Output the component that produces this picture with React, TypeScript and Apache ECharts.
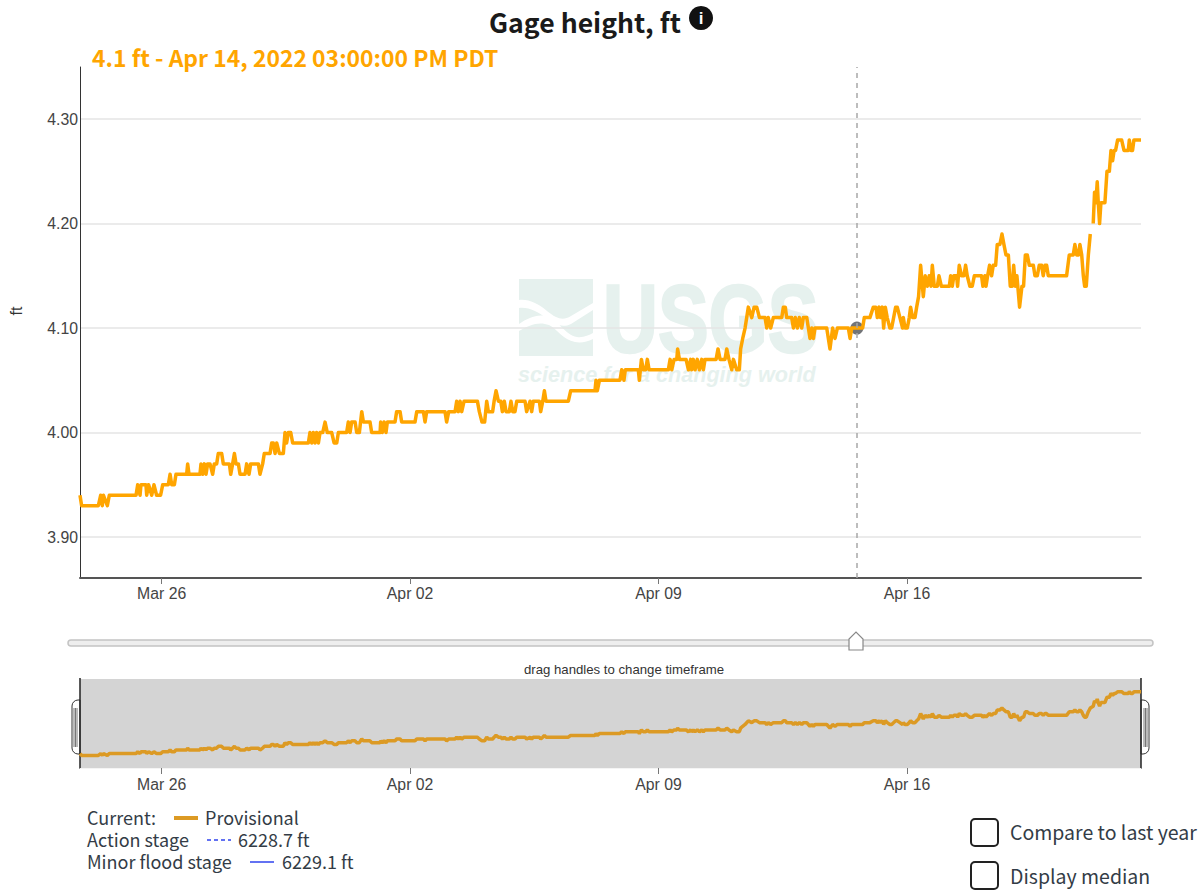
import React, { useEffect, useRef } from "react";
import * as echarts from "echarts";

const PAGE_WIDTH = 1203;
const PAGE_HEIGHT = 890;

const chartTitle = "Gage height, ft";
const hoverLabel = "4.1 ft - Apr 14, 2022 03:00:00 PM PDT";
const yAxisName = "ft";
const overviewCaption = "drag handles to change timeframe";
const yTicks = [3.9, 4.0, 4.1, 4.2, 4.3];
const xTickDates = ["2022-03-26", "2022-04-02", "2022-04-09", "2022-04-16"];
const xTickLabels = ["Mar 26", "Apr 02", "Apr 09", "Apr 16"];
const hoverHours = 525.3;
const hoverValue = 4.1;
const actionStage = "6228.7 ft";
const minorFloodStage = "6229.1 ft";

// [hours since the left edge of the axis, gage height in ft]
const readingsMarch: number[][] = [
  [0, 3.94], [1.1, 3.93], [12.4, 3.93], [14, 3.94], [15.1, 3.93], [15.8, 3.94], [18.5, 3.93], [19.8, 3.94],
  [37.9, 3.94], [39, 3.95], [40.6, 3.94], [41.2, 3.95], [44.6, 3.95], [45.1, 3.94], [46.4, 3.95], [48.5, 3.94],
  [50, 3.95], [51.8, 3.94], [54.5, 3.94], [55.9, 3.95], [59.7, 3.95], [60.9, 3.96], [62, 3.95], [63.8, 3.95],
  [64.9, 3.96], [72.1, 3.96], [72.8, 3.97], [73.7, 3.96], [81.1, 3.96], [81.8, 3.97], [82.9, 3.96], [84.1, 3.97],
  [85.2, 3.96], [86.3, 3.97], [87.9, 3.97], [89.7, 3.96], [90.8, 3.97], [92.4, 3.97], [93.5, 3.98], [95.8, 3.98],
  [96.9, 3.97], [101, 3.97], [101.9, 3.96], [103.2, 3.97], [104.4, 3.98], [105.5, 3.97], [107.1, 3.97], [108.2, 3.96],
  [111.6, 3.96], [112.7, 3.97], [114.3, 3.96], [115.4, 3.97], [120.6, 3.97], [121.7, 3.96], [123.5, 3.97], [124.6, 3.98],
  [128.5, 3.98], [129.6, 3.99], [130.7, 3.99], [131.9, 3.98], [133, 3.99], [134.8, 3.98], [137.5, 3.98], [138.6, 4.0],
  [139.7, 3.99], [140.9, 4.0], [142.5, 4.0], [143.8, 3.99], [154.4, 3.99], [155.5, 4.0], [156.7, 3.99], [157.8, 4.0],
  [158.9, 3.99], [160, 4.0], [161.2, 3.99], [162.3, 4.0], [164.1, 4.0], [165.7, 4.01], [167.2, 4.0], [170.2, 4.0],
  [171.8, 3.99], [173.6, 3.99], [174.7, 4.0], [180.3, 4.0], [181.4, 4.01], [182.6, 4.0], [183.7, 4.01], [186, 4.01],
  [187.1, 4.0], [188.9, 4.0], [190.5, 4.02], [191.6, 4.01], [196.1, 4.01], [197.2, 4.0], [202.9, 4.0], [203.3, 4.01],
  [204.4, 4.0], [205.6, 4.01], [206.9, 4.0], [207.8, 4.01], [213, 4.01], [214.1, 4.02], [216.4, 4.02], [217.5, 4.01],
];
const readingsEarlyApril: number[][] = [
  [226.5, 4.01], [227.7, 4.02], [232.2, 4.02], [233.3, 4.01], [234.4, 4.02], [246.8, 4.02], [247.9, 4.01], [249.3, 4.02],
  [253.6, 4.02], [254.7, 4.03], [255.8, 4.02], [257, 4.03], [258.1, 4.02], [259.7, 4.03], [268.7, 4.03], [270, 4.02],
  [271.8, 4.01], [273.6, 4.01], [275, 4.03], [276.1, 4.02], [279, 4.02], [280, 4.03], [281.3, 4.04], [282.9, 4.03],
  [284.5, 4.03], [285.6, 4.02], [286.9, 4.03], [288.1, 4.02], [290.3, 4.02], [291.4, 4.03], [292.6, 4.02], [294.1, 4.02],
  [295.3, 4.03], [300.9, 4.03], [302, 4.02], [304.3, 4.03], [305.4, 4.02], [306.5, 4.03], [310.6, 4.03], [311.5, 4.02],
  [312.9, 4.03], [314, 4.04], [315.1, 4.03], [330.2, 4.03], [331.8, 4.04], [348.2, 4.04], [348.9, 4.05], [349.8, 4.04],
  [351.2, 4.05], [365.1, 4.05], [366.3, 4.06], [367.8, 4.05], [368.7, 4.06], [377.5, 4.06], [378.2, 4.05], [379.6, 4.07],
  [380.9, 4.06], [382.5, 4.06], [383.6, 4.07], [384.8, 4.06], [397.8, 4.06], [399, 4.07], [400.1, 4.06], [401.7, 4.07],
  [403.5, 4.07], [404.1, 4.08], [405.3, 4.07], [409.8, 4.07], [411.4, 4.06], [412.9, 4.07], [413.6, 4.06], [414.7, 4.07],
  [415.9, 4.06], [417.4, 4.07], [418.8, 4.06], [420.4, 4.07], [421.5, 4.06], [422.6, 4.07], [430.1, 4.07], [431.4, 4.08],
  [432.8, 4.07], [436.1, 4.07], [437.3, 4.08], [438.8, 4.07], [440.7, 4.06], [441.8, 4.07], [444, 4.06], [445.8, 4.06],
];
const readingsMidApril: number[][] = [
  [446.7, 4.08], [448.1, 4.09], [449.7, 4.1], [451.9, 4.12], [454.2, 4.11], [455.8, 4.12], [457.6, 4.12], [459.4, 4.11],
  [463.2, 4.11], [464.3, 4.1], [465.4, 4.11], [467, 4.1], [468.8, 4.11], [474.5, 4.11], [475.6, 4.12], [476.9, 4.12],
  [477.8, 4.11], [481.2, 4.11], [482.4, 4.1], [483.7, 4.11], [485.1, 4.1], [486.4, 4.11], [488, 4.1], [489.1, 4.11],
  [491.4, 4.11], [492.5, 4.1], [493.6, 4.09], [494.8, 4.1], [495.9, 4.09], [497, 4.1], [504.9, 4.1], [506, 4.09],
  [507.1, 4.08], [508.9, 4.1], [510.5, 4.09], [512.1, 4.1], [519.5, 4.1], [520.7, 4.09], [521.8, 4.1], [529.2, 4.1],
  [530.3, 4.11], [534.1, 4.11], [536.4, 4.12], [538.2, 4.12], [539.1, 4.11], [540.4, 4.12], [541.3, 4.11], [542.5, 4.12],
  [543.4, 4.1], [544.5, 4.12], [545.8, 4.11], [547.6, 4.1], [548.8, 4.1], [551.5, 4.12], [552.6, 4.12], [554.4, 4.11],
  [556.2, 4.1], [556.7, 4.11], [557.8, 4.1], [559.4, 4.1], [560.7, 4.11], [561.6, 4.12], [563, 4.11], [564.6, 4.11],
  [565.7, 4.12], [567, 4.13], [568.4, 4.16], [570.2, 4.13], [571.5, 4.15], [572.9, 4.14], [574.2, 4.15], [575.4, 4.14],
  [576.3, 4.16], [577.6, 4.14], [579.7, 4.14], [580.8, 4.15], [582.4, 4.14], [587.8, 4.14], [588.7, 4.15], [589.8, 4.14],
];
const readingsLateApril: number[][] = [
  [590.9, 4.15], [592.7, 4.15], [593.4, 4.14], [594.5, 4.16], [596.1, 4.15], [597.7, 4.15], [598.8, 4.16], [599.9, 4.15],
  [601.7, 4.14], [603.3, 4.14], [604.7, 4.15], [609.6, 4.15], [610.5, 4.14], [611.9, 4.15], [612.6, 4.14], [613.7, 4.15],
  [615, 4.16], [616.4, 4.15], [617.5, 4.16], [619.1, 4.16], [620.2, 4.18], [622, 4.18], [623.4, 4.19], [624.7, 4.18],
  [626.1, 4.17], [627.7, 4.17], [629, 4.14], [630.4, 4.14], [631.3, 4.16], [632.4, 4.14], [633.5, 4.15], [635.3, 4.12],
  [636.9, 4.14], [638, 4.14], [639.2, 4.17], [640.5, 4.17], [641.9, 4.16], [644.6, 4.16], [645.7, 4.15], [647.3, 4.15],
  [648.6, 4.16], [650.2, 4.16], [651.3, 4.15], [652.5, 4.16], [653.6, 4.16], [654.7, 4.15], [667.1, 4.15], [668.9, 4.17],
  [671.6, 4.17], [672.7, 4.18], [673.9, 4.17], [675.2, 4.17], [676.1, 4.18], [677.3, 4.17], [678.4, 4.15], [679.3, 4.14],
  [680.4, 4.14], [681.8, 4.17], [683.1, 4.19],
];
const readingsAfterGap: number[][] = [
  [685.1, 4.2], [686, 4.23], [686.9, 4.22], [687.8, 4.24], [688.5, 4.22], [689.4, 4.2], [690.3, 4.22], [693, 4.22],
  [694.4, 4.25], [696, 4.25], [697.1, 4.27], [698.2, 4.26], [699.2, 4.27], [700.2, 4.27], [701.6, 4.28], [704.3, 4.28],
  [705.9, 4.27], [708.8, 4.27], [709.5, 4.28], [710.6, 4.27], [711.7, 4.27], [712.6, 4.28], [717.4, 4.28],
];

const AXIS_START = Date.UTC(2022, 2, 23, 16, 48);
const AXIS_HOURS = 717.4;
const HOUR_MS = 3600000;
const Y_MIN = 3.8608;
const Y_MAX = 4.3498;

const ORANGE = "#ffa500";
const OVERVIEW_ORANGE = "#dc9a24";
const SOURCE_FONT = '"Noto Sans CJK SC", "Noto Sans", sans-serif';
const AXIS_FONT = '"Liberation Sans", Arial, sans-serif';
const MARK = "#e6f1ee";

const WAVE_A =
  "M0 21 C10 20 18 24 28 32 C38 40 44 42 52 37 L74 24 L74 31 L52 45 C44 49 36 46 28 40 C18 32 10 28 0 29 Z";
const WAVE_B =
  "M0 45 C10 38 20 34 30 38 C40 42 46 56 58 58 C64 59 70 56 74 54 L74 60 C68 63 62 64 56 63 C44 61 38 50 30 46 C20 42 10 46 0 52 Z";

echarts.graphic.registerShape("usgsWaveA", echarts.graphic.extendPath(WAVE_A as any, {}) as any);
echarts.graphic.registerShape("usgsWaveB", echarts.graphic.extendPath(WAVE_B as any, {}) as any);

function toPoints(rows: number[][]) {
  return rows.map(([h, v]) => [AXIS_START + h * HOUR_MS, v]);
}

function buildLine() {
  return [
    ...toPoints(readingsMarch),
    ...toPoints(readingsEarlyApril),
    ...toPoints(readingsMidApril),
    ...toPoints(readingsLateApril),
    [AXIS_START + 684 * HOUR_MS, null],
    ...toPoints(readingsAfterGap),
  ];
}

function buildOption() {
  const lineData = buildLine();
  const tickValues = xTickDates.map((d) => new Date(d + "T00:00:00Z").getTime());
  const labelFor = (value: number) => {
    const i = tickValues.indexOf(value);
    return i >= 0 ? xTickLabels[i] : "";
  };
  const xMin = AXIS_START;
  const xMax = AXIS_START + AXIS_HOURS * HOUR_MS;
  const hoverTime = AXIS_START + hoverHours * HOUR_MS;

  const plainText = (
    text: string,
    x: number,
    y: number,
    fontSize: number,
    extra: Record<string, unknown> = {},
  ) => ({
    type: "text",
    x,
    y,
    silent: true,
    style: {
      text,
      fontFamily: SOURCE_FONT,
      fontSize,
      fill: "#333c46",
      textVerticalAlign: "middle",
      ...extra,
    },
  });

  const handle = (x: number, side: number) => ({
    type: "group",
    silent: true,
    children: [
      {
        type: "rect",
        shape: { x: side < 0 ? x - 8 : x, y: 700, width: 8, height: 54, r: side < 0 ? [6, 0, 0, 6] : [0, 6, 6, 0] },
        style: { fill: "#fff", stroke: "#333", lineWidth: 1 },
      },
      ...[3, 4.5, 6].map((o) => ({
        type: "line",
        shape: { x1: x + side * o, y1: 708, x2: x + side * o, y2: 747 },
        style: { stroke: "#777", lineWidth: 1 },
      })),
      {
        type: "line",
        shape: { x1: x, y1: 678, x2: x, y2: 769 },
        style: { stroke: "#222", lineWidth: 1.5 },
      },
    ],
  });

  const checkbox = (y: number) => ({
    type: "rect",
    silent: true,
    shape: { x: 971, y, width: 27, height: 27, r: 4 },
    style: { fill: "#fff", stroke: "#222", lineWidth: 2 },
  });

  return {
    animation: false,
    backgroundColor: "#fff",
    grid: [
      { left: 80, top: 67, width: 1061, height: 511, outerBoundsMode: "none" },
      { left: 80, top: 679, width: 1061, height: 89, backgroundColor: "#d4d4d4", show: true, borderWidth: 0, outerBoundsMode: "none" },
    ],
    xAxis: [
      {
        type: "value",
        gridIndex: 0,
        min: xMin,
        max: xMax,
        axisLine: { show: true, onZero: false, lineStyle: { color: "#555", width: 2 } },
        axisTick: { show: true, customValues: tickValues, length: 6, lineStyle: { color: "#777" } },
        splitLine: { show: false },
        axisLabel: {
          customValues: tickValues,
          formatter: labelFor,
          color: "#444",
          fontFamily: AXIS_FONT,
          fontSize: 15.8,
          margin: 7,
          hideOverlap: false,
        },
      },
      {
        type: "value",
        gridIndex: 1,
        min: xMin,
        max: xMax,
        axisLine: { show: true, onZero: false, lineStyle: { color: "#f4f4f4", width: 1 } },
        axisTick: { show: true, customValues: tickValues, length: 6, lineStyle: { color: "#777" } },
        splitLine: { show: false },
        axisLabel: {
          customValues: tickValues,
          formatter: labelFor,
          color: "#444",
          fontFamily: AXIS_FONT,
          fontSize: 15.8,
          margin: 8,
          hideOverlap: false,
        },
      },
    ],
    yAxis: [
      {
        type: "value",
        gridIndex: 0,
        min: Y_MIN,
        max: Y_MAX,
        axisLine: { show: true, onZero: false, lineStyle: { color: "#333", width: 1 } },
        axisTick: { show: false, customValues: yTicks },
        splitLine: { show: true, lineStyle: { color: "#e5e5e5", width: 1.5 } },
        axisLabel: {
          customValues: yTicks,
          formatter: (v: number) => v.toFixed(2),
          color: "#444",
          fontFamily: AXIS_FONT,
          fontSize: 15.8,
          margin: 2,
        },
      },
      {
        type: "value",
        gridIndex: 1,
        min: Y_MIN,
        max: Y_MAX,
        axisLine: { show: false },
        axisTick: { show: false },
        splitLine: { show: false },
        axisLabel: { show: false },
      },
    ],
    series: [
      {
        type: "scatter",
        xAxisIndex: 0,
        yAxisIndex: 0,
        silent: true,
        z: 2,
        symbol: "circle",
        symbolSize: 13,
        itemStyle: { color: "#4f5155" },
        data: [[hoverTime, hoverValue]],
        markLine: {
          silent: true,
          symbol: "none",
          animation: false,
          label: { show: false },
          lineStyle: { color: "#a8a8a8", type: [5, 5], width: 1.5 },
          data: [{ xAxis: hoverTime }],
        },
      },
      {
        type: "line",
        name: "Provisional",
        xAxisIndex: 0,
        yAxisIndex: 0,
        z: 3,
        showSymbol: false,
        connectNulls: false,
        lineStyle: { color: ORANGE, width: 3.5, join: "round" },
        itemStyle: { color: ORANGE },
        data: lineData,
      },
      {
        type: "line",
        name: "Overview",
        xAxisIndex: 1,
        yAxisIndex: 1,
        z: 3,
        showSymbol: false,
        connectNulls: true,
        lineStyle: { color: OVERVIEW_ORANGE, width: 3.5 },
        itemStyle: { color: OVERVIEW_ORANGE },
        data: lineData,
      },
    ],
    graphic: [
      // watermark
      { type: "rect", z: -1, silent: true, shape: { x: 519, y: 279, width: 74, height: 77 }, style: { fill: MARK } },
      { type: "usgsWaveA", x: 519, y: 279, z: -1, silent: true, style: { fill: "#fff" } },
      { type: "usgsWaveB", x: 519, y: 279, z: -1, silent: true, style: { fill: "#fff" } },
      {
        type: "text",
        x: 603,
        y: 270,
        z: -1,
        silent: true,
        scaleX: 1.0,
        scaleY: 1.27,
        style: { text: "USGS", fontFamily: AXIS_FONT, fontWeight: "bold", fontSize: 76, fill: MARK, stroke: MARK, lineWidth: 2 },
      },
      {
        type: "text",
        x: 518,
        y: 363,
        z: -1,
        silent: true,
        style: {
          text: "science for a changing world",
          fontFamily: AXIS_FONT,
          fontWeight: "bold",
          fontStyle: "italic",
          fontSize: 21.6,
          fill: MARK,
        },
      },
      // titles
      plainText(chartTitle, 489, 21, 26.6, { fontWeight: "bold", fill: "#1a1a1a" }),
      { type: "circle", silent: true, shape: { cx: 701, cy: 18, r: 12 }, style: { fill: "#111" } },
      {
        type: "text",
        x: 701,
        y: 18,
        silent: true,
        style: {
          text: "i",
          fontFamily: AXIS_FONT,
          fontWeight: "bold",
          fontSize: 17,
          fill: "#fff",
          textAlign: "center",
          textVerticalAlign: "middle",
        },
      },
      plainText(hoverLabel, 92, 57, 22.9, { fontWeight: "bold", fill: ORANGE }),
      {
        type: "text",
        x: 16,
        y: 311,
        rotation: Math.PI / 2,
        silent: true,
        style: {
          text: yAxisName,
          fontFamily: AXIS_FONT,
          fontSize: 16,
          fill: "#333",
          textAlign: "center",
          textVerticalAlign: "middle",
        },
      },
      // slider
      {
        type: "rect",
        silent: true,
        shape: { x: 68, y: 640, width: 1085, height: 6, r: 3 },
        style: { fill: "#eeeeee", stroke: "#c4c4c4", lineWidth: 1.5 },
      },
      {
        type: "polygon",
        silent: true,
        shape: { points: [[849, 650], [849, 639], [856, 632], [863, 639], [863, 650]] },
        style: { fill: "#fff", stroke: "#888", lineWidth: 1.2 },
      },
      {
        type: "text",
        x: 624,
        y: 669,
        silent: true,
        style: {
          text: overviewCaption,
          fontFamily: AXIS_FONT,
          fontSize: 13.2,
          fill: "#333",
          textAlign: "center",
          textVerticalAlign: "middle",
        },
      },
      handle(80, -1),
      handle(1141, 1),
      // legend
      plainText("Current:", 87, 817, 18, { lineHeight: 20 }),
      { type: "line", silent: true, shape: { x1: 174, y1: 818, x2: 198, y2: 818 }, style: { stroke: OVERVIEW_ORANGE, lineWidth: 4 } },
      plainText("Provisional", 205, 817, 18, { lineHeight: 20 }),
      plainText("Action stage", 87, 839, 18, { lineHeight: 20 }),
      { type: "line", silent: true, shape: { x1: 207, y1: 840, x2: 231, y2: 840 }, style: { stroke: "#2f43ee", lineWidth: 1.5, lineDash: [4, 3] } },
      plainText(actionStage, 238, 839, 18, { lineHeight: 20 }),
      plainText("Minor flood stage", 87, 861, 18, { lineHeight: 20 }),
      { type: "line", silent: true, shape: { x1: 250, y1: 862, x2: 274, y2: 862 }, style: { stroke: "#2f43ee", lineWidth: 1.5 } },
      plainText(minorFloodStage, 282, 861, 18, { lineHeight: 20 }),
      // checkboxes
      checkbox(819),
      plainText("Compare to last year", 1010, 831, 19.5, { lineHeight: 22 }),
      checkbox(862),
      plainText("Display median", 1010, 875, 19.5, { lineHeight: 22 }),
    ],
  };
}

export default function App() {
  const ref = useRef<HTMLDivElement | null>(null);
  useEffect(() => {
    if (!ref.current) return;
    const chart = echarts.init(ref.current, undefined, { renderer: "svg" });
    chart.setOption(buildOption() as any);
    return () => chart.dispose();
  }, []);
  return (
    <div
      ref={ref}
      style={{ position: "absolute", left: 0, top: 0, width: PAGE_WIDTH, height: PAGE_HEIGHT, overflow: "hidden" }}
    />
  );
}
